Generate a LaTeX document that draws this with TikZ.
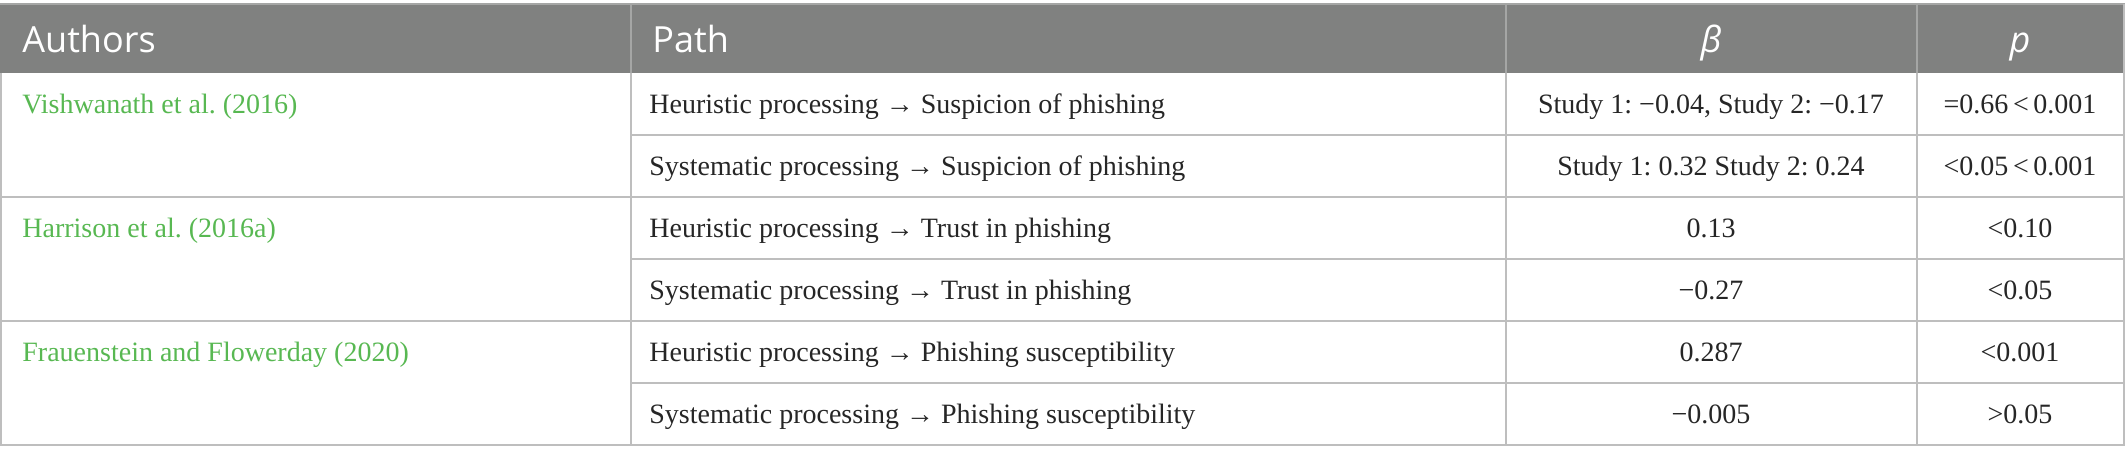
\documentclass[tikz,border=0pt]{standalone}
\usepackage{fontspec}
\usepackage{xcolor}
\setmainfont{Liberation Serif}
\newfontfamily\opensans{Open Sans}
\usetikzlibrary{positioning}
\definecolor{headgray}{RGB}{128,129,128}
\definecolor{headline}{RGB}{165,166,165}
\definecolor{gridgray}{RGB}{190,190,190}
\definecolor{authgreen}{RGB}{88,184,82}
\frenchspacing

\tikzset{
  headcell/.style={font=\opensans\fontsize{18}{20}\selectfont, text=white, inner sep=0pt},
  authcell/.style={font=\fontsize{14}{16}\selectfont, text=authgreen, anchor=base west, inner sep=0pt},
  pathcell/.style={font=\fontsize{14}{16}\selectfont, text=black!85, anchor=base west, inner sep=0pt},
  numcell/.style={font=\fontsize{14}{16}\selectfont, text=black!85, anchor=base, inner sep=0pt},
  gridline/.style={draw=gridgray, line width=1pt},
  headdiv/.style={draw=headline, line width=1pt}
}

\begin{document}
\begin{tikzpicture}[x=0.5pt,y=-0.5pt]
                \useasboundingbox (0,0) rectangle (2126,464);
                % header band
                \fill[headgray] (0,4) rectangle (2125,73);
                \draw[headdiv] (0,4) -- (2125,4);
                \draw[headdiv] (631,4) -- (631,73) (1506,4) -- (1506,73) (1917,4) -- (1917,73);
                % body grid
                \draw[gridline] (1,73) -- (1,445) (631,73) -- (631,445) (1506,73) -- (1506,445)
                    (1917,73) -- (1917,445) (2124,4) -- (2124,445);
                \draw[gridline] (631,135) -- (2125,135) (631,259) -- (2125,259) (631,383) -- (2125,383);
                \draw[gridline] (0,197) -- (2125,197) (0,321) -- (2125,321) (0,445) -- (2125,445);
                % header
                \node[headcell, anchor=base west] (hauthors) at (22,53) {Authors};
                \node[headcell, anchor=base west] (hpath) at (652,53) {Path};
                \node[headcell, anchor=base] (hbeta) at (1711,53) {\itshape β};
                \node[headcell, anchor=base] (hp) at (2020,53) {\itshape p};
                % authors
                \node[authcell] (vishwanath) at (22,114) {Vishwanath et al. (2016)};
                \node[authcell] (harrison) at (22,238) {Harrison et al. (2016a)};
                \node[authcell] (frauenstein) at (22,362) {Frauenstein and Flowerday (2020)};
                % paths
                \node[pathcell] (path1) at (649,114) {Heuristic processing → Suspicion of phishing};
                \node[pathcell] (path2) at (649,176) {Systematic processing → Suspicion of phishing};
                \node[pathcell] (path3) at (649,238) {Heuristic processing → Trust in phishing};
                \node[pathcell] (path4) at (649,300) {Systematic processing → Trust in phishing};
                \node[pathcell] (path5) at (649,362) {Heuristic processing → Phishing susceptibility};
                \node[pathcell] (path6) at (649,424) {Systematic processing → Phishing susceptibility};
                % beta
                \node[numcell] (beta1) at (1711,114) {Study 1: −0.04, Study 2: −0.17};
                \node[numcell] (beta2) at (1711,176) {Study 1: 0.32 Study 2: 0.24};
                \node[numcell] (beta3) at (1711,238) {0.13};
                \node[numcell] (beta4) at (1711,300) {−0.27};
                \node[numcell] (beta5) at (1711,362) {0.287};
                \node[numcell] (beta6) at (1711,424) {−0.005};
                % p values
                \node[numcell] (p1) at (2020,114) {=0.66\,<\,0.001};
                \node[numcell] (p2) at (2020,176) {<0.05\,<\,0.001};
                \node[numcell] (p3) at (2020,238) {<0.10};
                \node[numcell] (p4) at (2020,300) {<0.05};
                \node[numcell] (p5) at (2020,362) {<0.001};
                \node[numcell] (p6) at (2020,424) {>0.05};
        \end{tikzpicture}
\end{document}
